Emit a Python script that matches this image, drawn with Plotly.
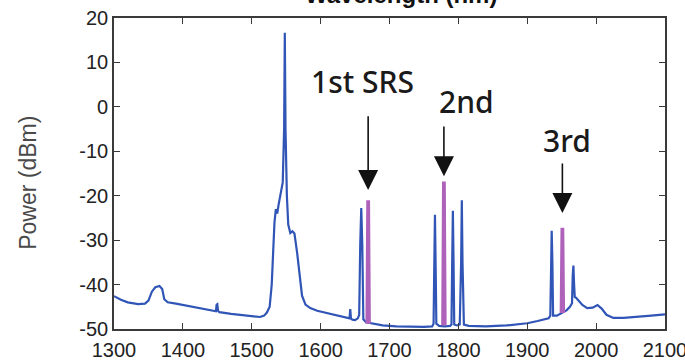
import plotly.graph_objects as go

# Broadband spectrum (blue trace): wavelength in nm, power in dBm
wavelength_nm = [
    1300, 1310, 1320, 1335, 1345, 1350, 1355, 1360, 1366, 1370, 1373, 1378,
    1390, 1410, 1430, 1446, 1448, 1449, 1450, 1451, 1453, 1470, 1490, 1505,
    1512, 1518, 1522, 1526, 1529, 1531, 1533, 1535, 1537, 1539, 1542, 1545,
    1547, 1548, 1549, 1551, 1553, 1556, 1559, 1562, 1566, 1569, 1573, 1578,
    1585, 1595, 1610, 1625, 1636, 1641, 1642, 1643, 1644, 1646, 1650, 1654,
    1656, 1657.5, 1659, 1660.5, 1662, 1666, 1675, 1690, 1710, 1730, 1750,
    1762, 1764, 1765, 1766, 1767, 1768, 1772, 1780, 1788, 1790, 1791, 1792,
    1793, 1794, 1798, 1802, 1804, 1805, 1806, 1808, 1815, 1840, 1870, 1900,
    1915, 1925, 1931, 1933.5, 1934.5, 1935.5, 1936.5, 1937.5, 1943, 1950, 1957, 1962,
    1965, 1966, 1967, 1968, 1969, 1971, 1975, 1980, 1987, 1995, 2002, 2008,
    2015, 2025, 2040, 2060, 2080, 2100,
]
power_dbm = [
    -42.6, -43.4, -44.0, -44.4, -44.3, -43.6, -41.6, -40.6, -40.3, -41.0, -43.3, -44.0,
    -44.3, -44.9, -45.5, -46.0, -46.0, -44.5, -44.4, -45.9, -46.2, -46.6, -47.0, -47.3,
    -47.3, -47.0, -46.3, -45.0, -40.0, -33.0, -26.0, -23.0, -24.0, -22.0, -19.4, -17.0,
    -5.0, 16.7, -5.0, -20.0, -26.5, -28.4, -28.0, -28.5, -33.0, -37.4, -42.5, -44.5,
    -45.3, -45.9, -46.4, -46.9, -47.3, -47.6, -47.6, -45.5, -47.6, -47.9, -48.0, -47.6,
    -46.8, -31.0, -22.8, -31.0, -47.8, -48.5, -48.8, -49.2, -49.4, -49.5, -49.5,
    -49.4, -48.8, -36.0, -24.3, -36.0, -48.8, -49.3, -49.4, -49.3, -49.0, -35.0, -23.4,
    -35.0, -49.0, -49.2, -49.0, -35.0, -21.0, -35.0, -49.0, -49.3, -49.4, -49.2, -48.7,
    -48.2, -47.9, -47.6, -47.0, -35.0, -27.9, -35.0, -47.0, -47.0, -46.4, -45.8, -45.0,
    -44.2, -38.0, -35.7, -40.0, -42.8, -43.0, -43.8, -44.6, -45.3, -45.2, -44.6, -45.4,
    -46.8, -47.5, -47.5, -47.3, -47.0, -46.7,
]

# Raman Stokes lines (purple traces): 1st, 2nd and 3rd order
stokes_orders = ["1st SRS", "2nd", "3rd"]
stokes_center_nm = [1669, 1779, 1951]
stokes_peak_dbm = [-21.0, -16.8, -27.2]
stokes_floor_dbm = [-48.8, -49.2, -46.4]
stokes_half_width_nm = 1.2

# Arrow geometry for the order labels (tip / tail in dBm)
arrow_tip_dbm = [-18.7, -15.6, -23.9]
arrow_tail_dbm = [-1.8, -4.1, -12.4]
label_x_nm = [1661, 1812, 1958]
label_y_dbm = [5.6, 1.1, -7.5]

x_ticks = list(range(1300, 2101, 100))
y_ticks = list(range(-50, 21, 10))

BLUE = "#3055b6"
PURPLE = "#ae62ba"
AXIS = "#3a3a3a"
TICK_FONT = dict(family="Liberation Sans, Arial, sans-serif", size=20, color="#222222")

fig = go.Figure()

fig.add_trace(go.Scatter(
    x=wavelength_nm, y=power_dbm, mode="lines",
    line=dict(color=BLUE, width=2.2), hoverinfo="x+y", showlegend=False,
))

for c, p, f in zip(stokes_center_nm, stokes_peak_dbm, stokes_floor_dbm):
    fig.add_trace(go.Scatter(
        x=[c - stokes_half_width_nm, c, c + stokes_half_width_nm],
        y=[f, p, f], mode="lines",
        line=dict(color=PURPLE, width=3.8), showlegend=False,
    ))

annotations = []
for name, c, tip, tail, lx, ly in zip(stokes_orders, stokes_center_nm,
                                      arrow_tip_dbm, arrow_tail_dbm,
                                      label_x_nm, label_y_dbm):
    annotations.append(dict(
        x=c, y=tip, ax=c, ay=tail, xref="x", yref="y", axref="x", ayref="y",
        text="", showarrow=True, arrowhead=2, arrowsize=2.5, arrowwidth=1.6,
        arrowcolor="#111111", standoff=0,
    ))
    annotations.append(dict(
        x=lx, y=ly, xref="x", yref="y", text=name, showarrow=False,
        font=dict(family="Noto Sans, Open Sans, sans-serif", size=30,
                  color="#1a1a1a", weight=500),
        xanchor="center", yanchor="middle",
    ))

# Axis titles
annotations.append(dict(
    x=0.52, y=1, xref="paper", yref="paper", yshift=24,
    text="<b>Wavelength (nm)</b>", showarrow=False,
    font=dict(family="Liberation Sans, Arial, sans-serif", size=24, color="#111111"),
    xanchor="center", yanchor="middle",
))
annotations.append(dict(
    x=0, y=0.47, xref="paper", yref="paper", xshift=-86,
    text="Power (dBm)", textangle=-90, showarrow=False,
    font=dict(family="Liberation Sans, Arial, sans-serif", size=23, color="#4a4a4a"),
    xanchor="center", yanchor="middle",
))

fig.update_layout(
    width=685, height=361,
    margin=dict(l=114, r=20, t=18, b=32, autoexpand=False),
    paper_bgcolor="white", plot_bgcolor="white",
    annotations=annotations,
    showlegend=False,
)
fig.update_xaxes(
    range=[1300, 2100], tickvals=x_ticks, ticktext=[str(v) for v in x_ticks],
    showgrid=False, zeroline=False, automargin=False,
    showline=True, linecolor=AXIS, linewidth=1.6, mirror="ticks",
    ticks="inside", ticklen=6, tickwidth=1.2, tickcolor=AXIS,
    tickfont=TICK_FONT, ticklabelstandoff=2, ticklabeloverflow="allow",
)
fig.update_yaxes(
    range=[-50, 20], tickvals=y_ticks, ticktext=[str(v) for v in y_ticks],
    showgrid=False, zeroline=False, automargin=False,
    showline=True, linecolor=AXIS, linewidth=1.6, mirror="ticks",
    ticks="inside", ticklen=6, tickwidth=1.2, tickcolor=AXIS,
    tickfont=TICK_FONT, ticklabeloverflow="allow",
)

fig.write_html("out.html")
